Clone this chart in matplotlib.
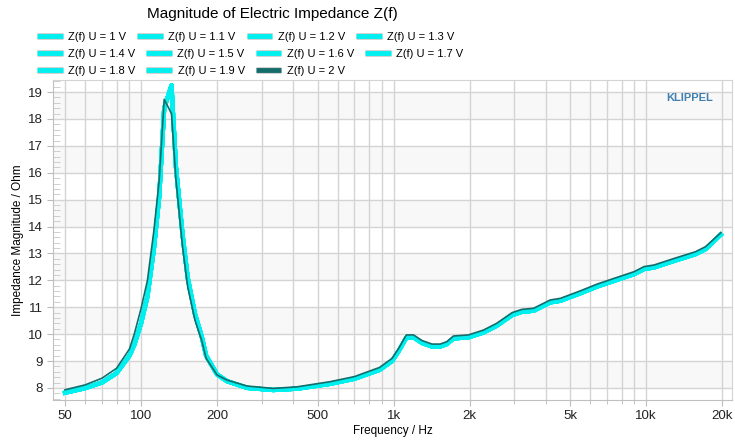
import matplotlib
matplotlib.use("Agg")
from matplotlib import pyplot as plt
from matplotlib import font_manager
from matplotlib.lines import Line2D
import matplotlib.patheffects as pe
import numpy as np

# Data (frequency in Hz, impedance in Ohm)
freq = [50, 60, 70, 80, 90, 94, 100, 106, 112.5, 118, 123.5, 132, 137.5, 146,
        153, 163.5, 174, 181, 200, 219, 263, 334, 415, 560, 700, 880, 987,
        1048, 1124, 1200, 1297, 1420, 1530, 1626, 1727, 1980, 2270, 2560,
        2950, 3224, 3585, 4175, 4576, 5496, 6401, 7456, 8960, 9818, 10757,
        12980, 15660, 17200, 19770]

# U = 1 V ... 1.9 V: the ten cyan curves overlap, read as one band
z_low = [7.82, 7.99, 8.2, 8.55, 9.2, 9.6, 10.4, 11.4, 13.2, 15.1, 18.4,
         19.25, 16.2, 13.7, 12.1, 10.75, 9.9, 9.2, 8.5, 8.25, 8.0, 7.92,
         7.97, 8.15, 8.34, 8.67, 9.0, 9.37, 9.87, 9.88, 9.67, 9.54, 9.54,
         9.63, 9.84, 9.88, 10.06, 10.31, 10.71, 10.83, 10.87, 11.18, 11.24,
         11.52, 11.77, 11.98, 12.23, 12.42, 12.48, 12.73, 12.97, 13.16, 13.7]

# U = 2 V (dark teal curve)
z_2v = [7.93, 8.11, 8.36, 8.73, 9.45, 10.0, 10.95, 12.0, 13.87, 15.73,
        18.73, 18.2, 15.73, 13.25, 11.76, 10.52, 9.75, 9.1, 8.48, 8.29,
        8.07, 7.98, 8.04, 8.23, 8.42, 8.76, 9.1, 9.47, 9.97, 9.97, 9.76,
        9.63, 9.63, 9.72, 9.93, 9.97, 10.15, 10.4, 10.8, 10.92, 10.96,
        11.27, 11.33, 11.61, 11.86, 12.07, 12.32, 12.51, 12.57, 12.82,
        13.06, 13.25, 13.77]

voltages = ['1', '1.1', '1.2', '1.3', '1.4', '1.5', '1.6', '1.7', '1.8', '1.9', '2']
curves = {u: z_low for u in voltages[:-1]}
curves['2'] = z_2v

x_ticks = [50, 100, 200, 500, 1000, 2000, 5000, 10000, 20000]
x_tick_labels = ['50', '100', '200', '500', '1k', '2k', '5k', '10k', '20k']
y_ticks = list(range(8, 20))

cyan = '#00f0f0'
dark = '#156d6b'
grid_c = '#d4d4d4'

# title/legend text in the reference is a narrow sans; use one if installed
installed = {f.name for f in font_manager.fontManager.ttflist}
narrow = [n for n in ['Liberation Sans Narrow', 'DejaVu Sans Condensed'] if n in installed]
if narrow:
    font = [narrow[0], 'DejaVu Sans']
    title_size, leg_size = 12, 9
else:
    font = ['Liberation Sans', 'DejaVu Sans']
    title_size, leg_size = 11, 8
plt.rcParams['font.family'] = ['Liberation Sans', 'DejaVu Sans']

fig = plt.figure(figsize=(7.35, 4.43), dpi=100)
ax = fig.add_axes([53/735, 1-400/443, (732-53)/735, (400-80)/443])

# alternating horizontal bands
for lo in range(8, 19, 2):
    ax.axhspan(lo, lo+1, color='#f8f8f8', zorder=0, lw=0)

for u in voltages:
    if u == '2':
        ax.plot(freq, curves[u], color=dark, lw=1.2, zorder=4)
    else:
        ax.plot(freq, curves[u], color=cyan, lw=3.0, zorder=3)

ax.set_xscale('log')
ax.set_xlim(44.8, 21900)
ax.set_ylim(7.55, 19.45)
ax.set_xticks(x_ticks)
ax.set_xticklabels(x_tick_labels)
minor_x = [m * d for d in [10, 100, 1000, 10000] for m in range(2, 10)
           if 50 <= m * d <= 20000 and m * d not in x_ticks]
ax.set_xticks(minor_x, minor=True)
ax.xaxis.set_minor_formatter(plt.NullFormatter())
ax.set_yticks(y_ticks)
ax.set_yticks(np.arange(7.6, 19.45, 0.2), minor=True)

ax.grid(True, which='both', axis='x', color=grid_c, lw=1, zorder=1)
ax.grid(True, which='major', axis='y', color=grid_c, lw=1, zorder=1)
ax.set_axisbelow(True)

ax.tick_params(axis='both', which='major', direction='out', length=4,
               color='#bbbbbb', labelsize=9.5, labelcolor='#222222')
ax.tick_params(axis='x', which='minor', length=3, color='#bbbbbb')
ax.tick_params(axis='y', which='minor', direction='in', length=5,
               color='#c8c8c8')
for s in ax.spines.values():
    s.set_color(grid_c)
ax.spines['left'].set_color('#c0c0c0')
ax.spines['bottom'].set_color('#c0c0c0')

ax.set_xlabel('Frequency / Hz', fontsize=8.5, labelpad=2)
ax.set_ylabel('Impedance Magnitude / Ohm', fontsize=8.5, labelpad=3)

ax.text(0.972, 0.945, 'KLIPPEL', transform=ax.transAxes, ha='right',
        va='center', fontsize=8, fontweight='bold', color='#3f80b0')

fig.text(272/735, 1-14/443, 'Magnitude of Electric Impedance Z(f)',
         ha='center', va='center', fontsize=title_size, family=font)

# legend laid out row by row (flow layout as in the reference)
rows = [voltages[0:4], voltages[4:8], voltages[8:11]]
row_y = [37, 54, 71]
for row, yp in zip(rows, row_y):
    handles = []
    for u in row:
        c = dark if u == '2' else cyan
        h = Line2D([], [], color=c, lw=3.5, solid_capstyle='butt',
                   path_effects=[pe.Stroke(linewidth=5, foreground='#d0d0d0'),
                                 pe.Normal()])
        handles.append(h)
    labels = [f'Z(f) U = {u} V' for u in row]
    fig.legend(handles, labels, loc='center left',
               bbox_to_anchor=(37/735, 1-yp/443), ncol=len(row), frameon=False,
               borderpad=0, borderaxespad=0, handlelength=2.3,
               handletextpad=0.5, columnspacing=1.0,
               prop={'family': font, 'size': leg_size})

fig.savefig('out.png', dpi=100)
